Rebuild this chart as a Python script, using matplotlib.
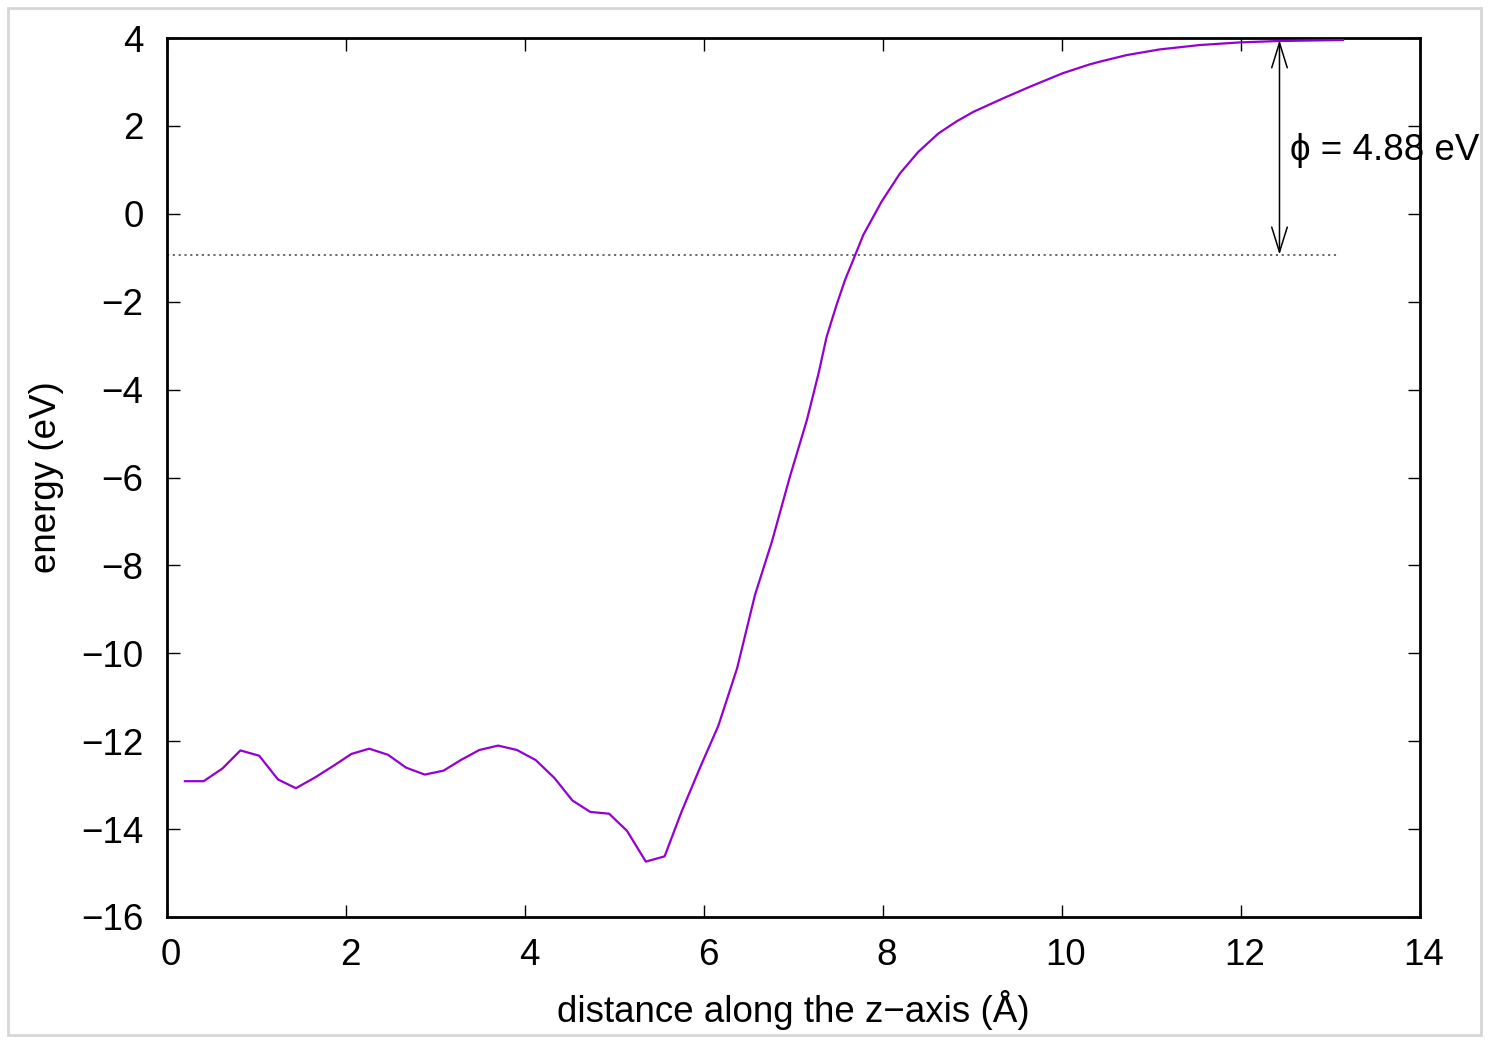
import matplotlib
matplotlib.use("Agg")
import matplotlib.pyplot as plt
from matplotlib.patches import Rectangle
from matplotlib.transforms import ScaledTranslation

# ---- data ----
z = [0.20, 0.41, 0.62, 0.82, 1.03, 1.24, 1.44, 1.65, 1.86, 2.06,
     2.26, 2.47, 2.67, 2.88, 3.09, 3.29, 3.49, 3.70, 3.91, 4.12,
     4.33, 4.53, 4.73, 4.94, 5.14, 5.35, 5.56, 5.75, 5.96, 6.16,
     6.37, 6.57, 6.76, 6.96, 7.15, 7.28, 7.37, 7.48, 7.575, 7.687,
     7.78, 7.985, 8.19, 8.395, 8.62, 8.82, 9.01, 9.345, 9.64, 10.01,
     10.31, 10.42, 10.72, 11.09, 11.54, 11.99, 12.40, 13.14]
energy = [-12.91, -12.91, -12.62, -12.21, -12.33, -12.87, -13.07, -12.83, -12.56, -12.29,
          -12.17, -12.31, -12.60, -12.76, -12.67, -12.42, -12.20, -12.10, -12.20, -12.43,
          -12.84, -13.35, -13.61, -13.65, -14.04, -14.74, -14.62, -13.60, -12.58, -11.65,
          -10.34, -8.67, -7.45, -5.98, -4.69, -3.63, -2.80, -2.08, -1.51, -0.95,
          -0.48, 0.28, 0.92, 1.41, 1.83, 2.10, 2.32, 2.63, 2.89, 3.20,
          3.40, 3.46, 3.61, 3.74, 3.84, 3.90, 3.93, 3.955]

fermi_level = -0.93
vacuum_level = 3.95
arrow_z = 12.43
fermi_line_x = [0.0, 13.1]
phi_label = "\u03d5 = 4.88 eV"

xticks = [0, 2, 4, 6, 8, 10, 12, 14]
yticks = [4, 2, 0, -2, -4, -6, -8, -10, -12, -14, -16]

W, H = 1489, 1043
DPI = 100
plt.rcParams['font.family'] = ['Liberation Sans', 'DejaVu Sans']
fs = 26.5

fig = plt.figure(figsize=(W / DPI, H / DPI), dpi=DPI, facecolor='white')
# outer frame like the reference
fig.patches.append(Rectangle((8 / W, 8 / H), 1 - 16 / W, 1 - 16 / H,
                             transform=fig.transFigure, facecolor='white',
                             edgecolor='#d6d6d6', linewidth=2.0, zorder=-1))

left, right, top, bottom = 167, 1420, 38, 917
ax = fig.add_axes([left / W, 1 - bottom / H, (right - left) / W, (bottom - top) / H])

ax.plot(z, energy, color='#9400D3', linewidth=1.6, zorder=3)
ax.plot(fermi_line_x, [fermi_level, fermi_level], color='#404040',
        linewidth=1.1, linestyle=(0, (1.4, 2.4)), zorder=2)

ax.annotate('', xy=(arrow_z, vacuum_level), xytext=(arrow_z, fermi_level),
            arrowprops=dict(arrowstyle='<->,head_length=0.9,head_width=0.28',
                            mutation_scale=20, color='black', lw=1.1,
                            shrinkA=0, shrinkB=0), zorder=4)
ax.text(12.55, 1.45, phi_label, fontsize=fs, va='center', ha='left',
        family=['Liberation Sans', 'DejaVu Sans'], zorder=5, clip_on=False)

ax.set_xlim(0, 14)
ax.set_ylim(-16, 4)
ax.set_xticks(xticks)
ax.set_yticks(yticks)
ax.tick_params(direction='in', length=9, width=1.0, top=True, right=True,
               labelsize=fs, color='black')
ax.tick_params(axis='x', pad=15)
ax.tick_params(axis='y', pad=17)
for sp in ax.spines.values():
    sp.set_linewidth(2.0)

shift = ScaledTranslation(4 / DPI, 0, fig.dpi_scale_trans)
for lab in ax.get_xticklabels():
    lab.set_transform(lab.get_transform() + shift)

ax.set_xlabel("distance along the z\u2212axis (\u00c5)", fontsize=fs, labelpad=12)
ax.set_ylabel("energy (eV)", fontsize=fs, labelpad=12)

fig.savefig('out.png', dpi=DPI, facecolor=fig.get_facecolor())
